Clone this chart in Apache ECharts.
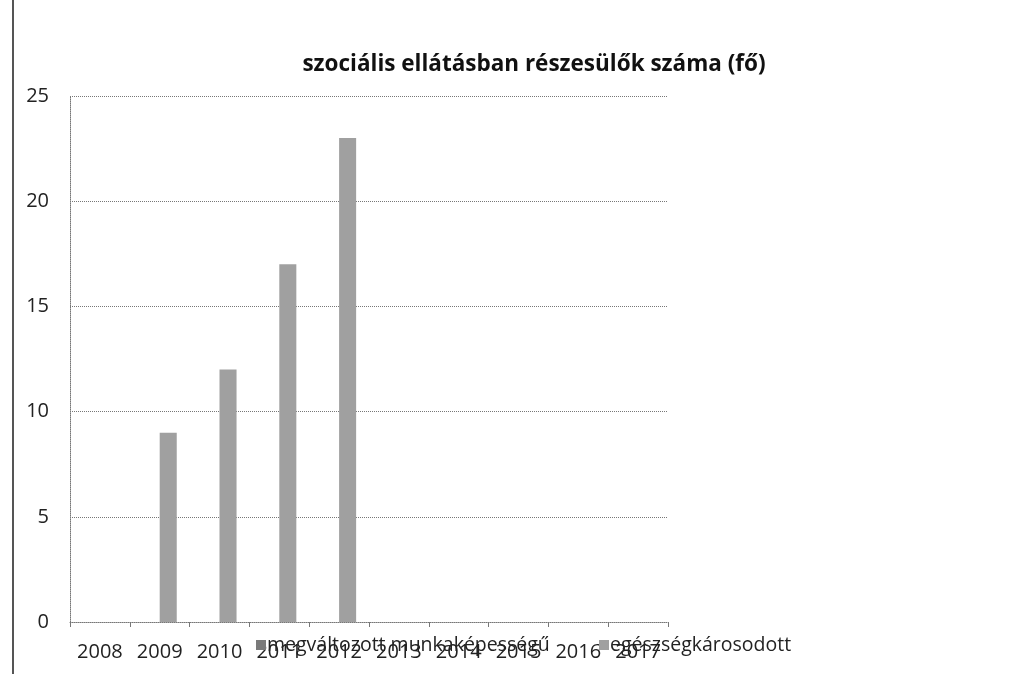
<!DOCTYPE html>
<html>
<head>
<meta charset="utf-8">
<script src="https://cdn.jsdelivr.net/npm/echarts@6/dist/echarts.min.js"></script>
<style>
  html, body { margin:0; padding:0; background:#fff; }
  #chart { width:1014px; height:674px; }
</style>
</head>
<body>
<div id="chart"></div>
<script>
const years = ['2008','2009','2010','2011','2012','2013','2014','2015','2016','2017'];
const megvaltozott = [null,null,null,null,null,null,null,null,null,null];
const egeszsegkarosodott = [null,9,12,17,23,null,null,null,null,null];
const seriesNames = ['megváltozott munkaképességű','egészségkárosodott'];

const chart = echarts.init(document.getElementById('chart'));
const font = '"Open Sans", "Liberation Sans", sans-serif';
const legendText = {fontFamily: font, fontSize: 19.5, color: '#222', padding: [0,0,0,-4]};

chart.setOption({
  animation: false,
  title: {
    text: 'szociális ellátásban részesülők száma (fő)',
    left: 529, top: 48, textAlign: 'center',
    textStyle: {fontFamily: font, fontSize: 22.5, fontWeight: 'bold', color: '#111'}
  },
  legend: [
    {left: 251, top: 630, itemWidth: 10, itemHeight: 10, icon: 'rect',
      textStyle: legendText, data: [seriesNames[0]]},
    {left: 594, top: 630, itemWidth: 10, itemHeight: 10, icon: 'rect',
      textStyle: legendText, data: [seriesNames[1]]}
  ],
  grid: {left: 70, right: 346, top: 96, bottom: 52},
  xAxis: {
    type: 'category',
    data: years,
    axisLine: {lineStyle: {color: '#777', type: 'dotted', width: 1}},
    axisTick: {show: true, length: 5, lineStyle: {color: '#777'}},
    axisLabel: {fontFamily: font, fontSize: 20, color: '#222', margin: 20}
  },
  yAxis: {
    type: 'value',
    min: 0, max: 25, interval: 5,
    axisLine: {show: true, lineStyle: {color: '#777', type: 'dotted'}},
    axisTick: {show: false},
    axisLabel: {fontFamily: font, fontSize: 20, color: '#222', margin: 21},
    splitLine: {lineStyle: {color: '#777', type: 'dotted'}}
  },
  graphic: [{
    type: 'line', shape: {x1: 13, y1: 0, x2: 13, y2: 674},
    style: {stroke: '#555', lineWidth: 2}
  }],
  series: [
    {name: seriesNames[0], type: 'bar', data: megvaltozott, barGap: '0%', barCategoryGap: '43%',
      itemStyle: {color: '#7a7a7a'}},
    {name: seriesNames[1], type: 'bar', data: egeszsegkarosodott,
      itemStyle: {color: '#a0a0a0'}}
  ]
});
</script>
</body>
</html>
